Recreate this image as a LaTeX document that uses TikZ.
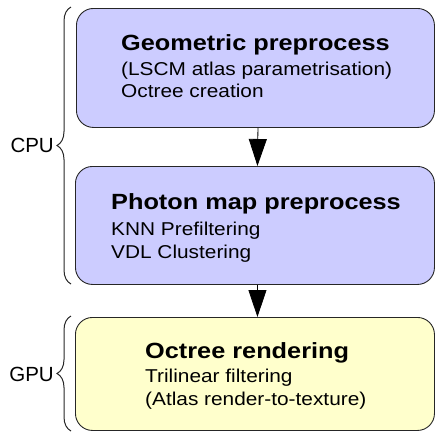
\documentclass[tikz,border=0pt]{standalone}
\usepackage{fontspec}
\setmainfont{Liberation Sans}
\newfontfamily\ttlfont[FakeStretch=1.15]{Liberation Sans}
\newfontfamily\bdyfont[FakeStretch=1.12]{Liberation Sans}
\usetikzlibrary{arrows.meta,decorations.pathreplacing}
\definecolor{boxblue}{HTML}{CCCCFF}
\definecolor{boxyellow}{HTML}{FFFFCC}
\begin{document}
\begin{tikzpicture}[x=1pt,y=-1pt,
  stage/.style={draw=black!85, line width=0.9pt, rounded corners=17pt, anchor=north west, inner sep=0pt},
  ttl/.style={anchor=base west, inner sep=0pt, font=\ttlfont\bfseries\fontsize{22}{26}\selectfont},
  bdy/.style={anchor=base west, inner sep=0pt, font=\bdyfont\fontsize{18.6}{22}\selectfont},
  lbl/.style={anchor=east, inner sep=0pt, font=\fontsize{20.5}{24}\selectfont},
  arr/.style={line width=0.8pt, -{Triangle[length=27pt,width=18pt]}},
  brc/.style={decorate, decoration={brace, amplitude=14pt}, line width=1pt, draw=black!85}]
\useasboundingbox (0,0) rectangle (435,432);

% boxes
\node[stage, fill=boxblue, minimum width=358pt, minimum height=119pt] (b1) at (76,8) {};
\node[stage, fill=boxblue, minimum width=359pt, minimum height=118pt] (b2) at (75,166) {};
\node[stage, fill=boxyellow, minimum width=359pt, minimum height=113pt] (b3) at (75,317) {};

% texts
\node[ttl] (t1) at (121,50) {Geometric preprocess};
\node[bdy] (t1a) at (121,75) {(LSCM atlas parametrisation)};
\node[bdy] (t1b) at (121,97.5) {Octree creation};

\node[ttl] (t2) at (111,209) {Photon map preprocess};
\node[bdy] (t2a) at (111,235) {KNN Prefiltering};
\node[bdy] (t2b) at (111,258) {VDL Clustering};

\node[ttl] (t3) at (145,358.5) {Octree rendering};
\node[bdy] (t3a) at (145,382.5) {Trilinear filtering};
\node[bdy] (t3b) at (145,405.5) {(Atlas render-to-texture)};

% arrows
\draw[arr] ([xshift=2.5pt]b1.south) -- ([xshift=2.5pt]b2.north);
\draw[arr] ([xshift=2.5pt]b2.south) -- ([xshift=2.5pt]b3.north);

% braces
\coordinate (cpuB) at (71,284);
\coordinate (cpuT) at (71,7);
\coordinate (gpuB) at (71,431);
\coordinate (gpuT) at (71,316);
\draw[brc] (cpuB) -- (cpuT);
\draw[brc] (gpuB) -- (gpuT);
\node[lbl] (cpu) at (54,145.5) {CPU};
\node[lbl] (gpu) at (54,374) {GPU};
\end{tikzpicture}
\end{document}
